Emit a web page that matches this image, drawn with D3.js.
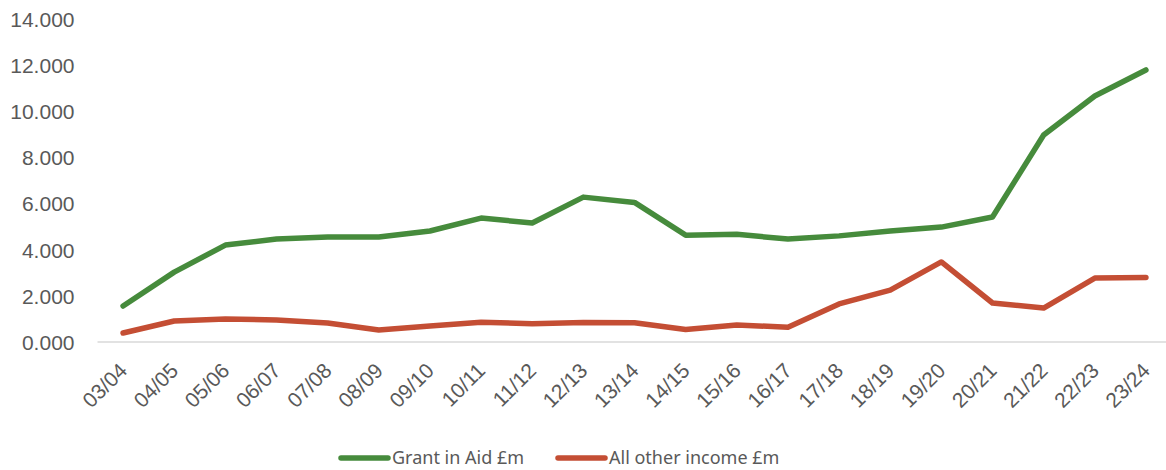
<!DOCTYPE html>
<html>
<head>
<meta charset="utf-8">
<script src="https://cdn.jsdelivr.net/npm/d3@7"></script>
<style>
  html, body { margin: 0; padding: 0; background: #fff; }
  svg { display: block; font-family: "Noto Sans", "Open Sans", sans-serif; }
</style>
</head>
<body>
<svg id="chart" width="1166" height="470"></svg>
<script>
// Financial years
const years = ["03/04","04/05","05/06","06/07","07/08","08/09","09/10","10/11","11/12","12/13",
  "13/14","14/15","15/16","16/17","17/18","18/19","19/20","20/21","21/22","22/23","23/24"];

// Income, £m
const grantInAid = [1.56, 3.03, 4.20, 4.46, 4.55, 4.55, 4.81, 5.37, 5.16, 6.28,
  6.05, 4.63, 4.67, 4.46, 4.60, 4.81, 4.98, 5.42, 8.97, 10.66, 11.79];
const otherIncome = [0.39, 0.91, 1.00, 0.95, 0.82, 0.52, 0.69, 0.86, 0.79, 0.84,
  0.83, 0.54, 0.74, 0.64, 1.65, 2.25, 3.47, 1.69, 1.47, 2.77, 2.80];

const yTicks = [0, 2, 4, 6, 8, 10, 12, 14];

const seriesNames = ["Grant in Aid £m", "All other income £m"];
const seriesColors = ["#468B3C", "#C44E34"];

const svg = d3.select("#chart");
const margin = { left: 97.5, right: -5.5, top: 19, bottom: 128 };
const W = 1166, H = 470;

const x = d3.scalePoint()
  .domain(years)
  .range([margin.left, W - margin.right])
  .padding(0.5);

const y = d3.scaleLinear()
  .domain([0, 14])
  .range([H - margin.bottom, margin.top]);

// Y axis labels (no axis line, no gridlines)
const yAxis = svg.append("g")
  .attr("transform", `translate(${margin.left - 23},0)`)
  .call(d3.axisLeft(y).tickValues(yTicks).tickFormat(d3.format(".3f")).tickSize(0).tickPadding(0));
yAxis.select(".domain").remove();
yAxis.selectAll("text")
  .attr("fill", "#595959")
  .style("font-size", "21px")
  .attr("dy", "0.35em");

// X axis baseline and rotated category labels
const xAxis = svg.append("g")
  .attr("transform", `translate(0,${y(0)})`)
  .call(d3.axisBottom(x).tickSize(0).tickPadding(0));
xAxis.select(".domain")
  .attr("stroke", "#d9d9d9")
  .attr("stroke-width", 1.5)
  .attr("d", `M${margin.left},0H${W - margin.right}`);
xAxis.selectAll(".tick text")
  .attr("fill", "#595959")
  .style("font-size", "21px")
  .attr("text-anchor", "end")
  .attr("dy", null)
  .attr("y", 0)
  .attr("transform", "translate(1,26) rotate(-45)")
  .attr("dominant-baseline", "middle");

// Lines
const line = d3.line()
  .x((d, i) => x(years[i]))
  .y(d => y(d));

[grantInAid, otherIncome].forEach((vals, k) => {
  svg.append("path")
    .datum(vals)
    .attr("fill", "none")
    .attr("stroke", seriesColors[k])
    .attr("stroke-width", 5.5)
    .attr("stroke-linejoin", "round")
    .attr("stroke-linecap", "round")
    .attr("d", line);
});

// Legend
const legendX = [341, 558];
const legend = svg.append("g").attr("transform", "translate(0,458)");
seriesNames.forEach((name, k) => {
  legend.append("line")
    .attr("x1", legendX[k]).attr("x2", legendX[k] + 47)
    .attr("y1", 0).attr("y2", 0)
    .attr("stroke", seriesColors[k])
    .attr("stroke-width", 5.5)
    .attr("stroke-linecap", "round");
  legend.append("text")
    .attr("x", legendX[k] + 51)
    .attr("y", 0)
    .attr("dy", "0.35em")
    .attr("fill", "#595959")
    .style("font-size", "18px")
    .text(name);
});
</script>
</body>
</html>
